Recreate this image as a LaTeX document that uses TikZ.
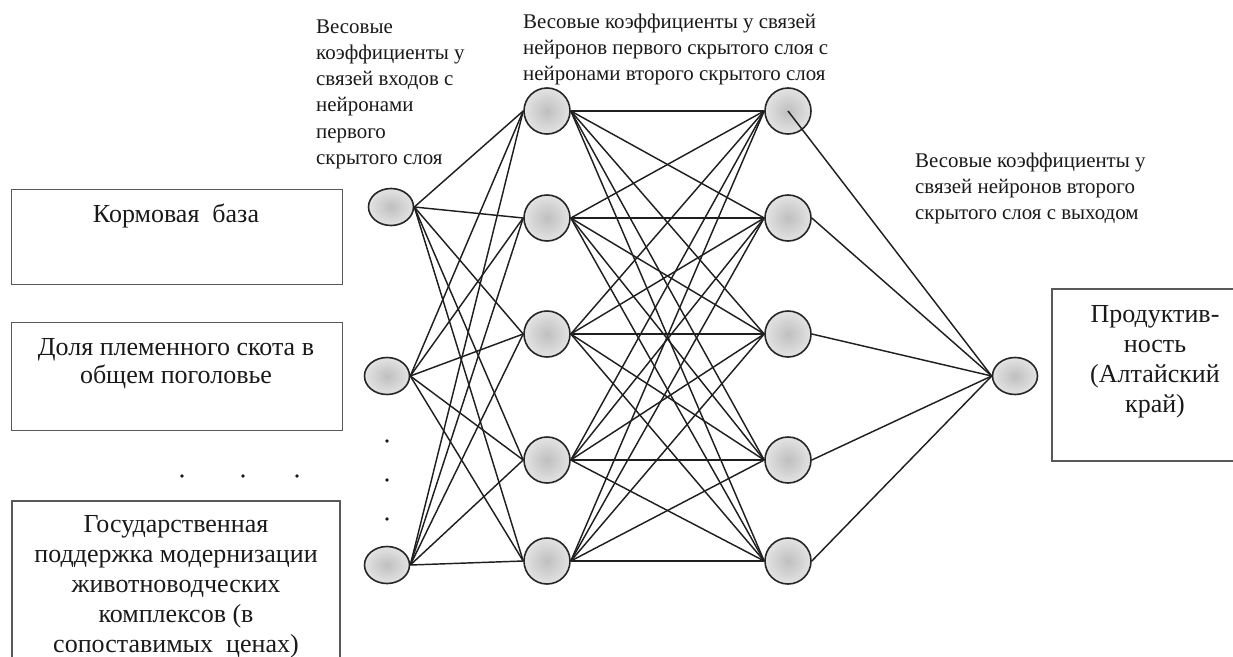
\documentclass[tikz,border=0pt]{standalone}
\usepackage{fontspec}
\setmainfont{Liberation Serif}
\usetikzlibrary{shapes.geometric}
\newcommand\lblfont{\fontsize{20.9}{26.2}\selectfont}
\newcommand\boxfont{\fontsize{26}{30}\selectfont}
\begin{document}
\begin{tikzpicture}[x=1pt,y=-1pt,
  neuron/.style={circle, draw=black!85, line width=1.6pt, inner color=gray!50, outer color=gray!22, minimum size=46pt, inner sep=0pt},
  ionode/.style={ellipse, draw=black!85, line width=1.6pt, inner color=gray!50, outer color=gray!22, minimum width=45pt, minimum height=37pt, inner sep=0pt},
  edge/.style={draw=black!88, line width=1.45pt},
  boxline/.style={draw=black!65, line width=1.1pt},
  lbl/.style={anchor=north west, inner sep=0pt, align=left, font=\lblfont, text=black!90},
  boxtxt/.style={anchor=north, inner sep=0pt, align=center, font=\boxfont, text=black!90},
  dot/.style={fill=black!90}]
\useasboundingbox (0,0) rectangle (1233,656);

% input boxes
\node[boxline, rectangle, anchor=north west, minimum width=331pt, minimum height=95pt, inner sep=0pt] (box1) at (11,189) {};
\node[boxline, rectangle, anchor=north west, minimum width=331pt, minimum height=108pt, inner sep=0pt] (box2) at (11,322) {};
\coordinate (box3tl) at (12,501);
\coordinate (box3tr) at (340,501);
\draw[boxline] (12,670) -- (box3tl) -- (box3tr) -- (340,670);
\node[boxtxt] (t1) at (176,201) {\strut Кормовая\ \ база};
\node[boxtxt, font=\fontsize{26}{28.5}\selectfont] (t2) at (176,335) {\strut Доля племенного скота в\\общем поголовье};
\node[boxtxt] (t3) at (176,511) {\strut Государственная\\поддержка модернизации\\животноводческих\\комплексов (в\\сопоставимых\ \ ценах)};

% output box
\coordinate (obl) at (1052,461);
\coordinate (otl) at (1052,289);
\draw[boxline] (1240,461) -- (obl) -- (otl) -- (1240,289);
\node[boxtxt] (t4) at (1155,301) {\strut Продуктив-\\ность\\(Алтайский\\край)};

% dots
\fill[dot] (182,476) circle (1.8);
\fill[dot] (243,476) circle (1.8);
\fill[dot] (297,476) circle (1.8);
\fill[dot] (387,441) circle (1.8);
\fill[dot] (387,480) circle (1.8);
\fill[dot] (387,519) circle (1.8);

% labels
\node[lbl] (l1) at (316,14.8) {\strut Весовые\\коэффициенты у\\связей входов с\\нейронами\\первого\\скрытого слоя};
\node[lbl] (l2) at (523,9.8) {\strut Весовые коэффициенты у связей\\нейронов первого скрытого слоя с\\нейронами второго скрытого слоя};
\node[lbl] (l3) at (915,148.8) {\strut Весовые коэффициенты у\\связей нейронов второго\\скрытого слоя с выходом};

% neurons
\node[ionode] (i1) at (391,207) {};
\node[ionode] (i2) at (387,376) {};
\node[ionode] (i3) at (387,565) {};
\foreach \k/\y in {1/111,2/218,3/334,4/460,5/561}{
  \node[neuron] (a\k) at (547,\y) {};
  \node[neuron] (b\k) at (788,\y) {};
}
\node[ionode] (out) at (1015,376) {};

% connections
\foreach \i in {1,2,3}{
  \foreach \j in {1,...,5}{
    \draw[edge] (i\i.east) -- (a\j.west);
  }
}
\foreach \i in {1,...,5}{
  \foreach \j in {1,...,5}{
    \draw[edge] (a\i.east) -- (b\j.west);
  }
}
\foreach \j in {2,...,5}{
  \draw[edge] (b\j.east) -- (out.west);
}
\draw[edge] (b1.center) -- (out.west);
\end{tikzpicture}
\end{document}
